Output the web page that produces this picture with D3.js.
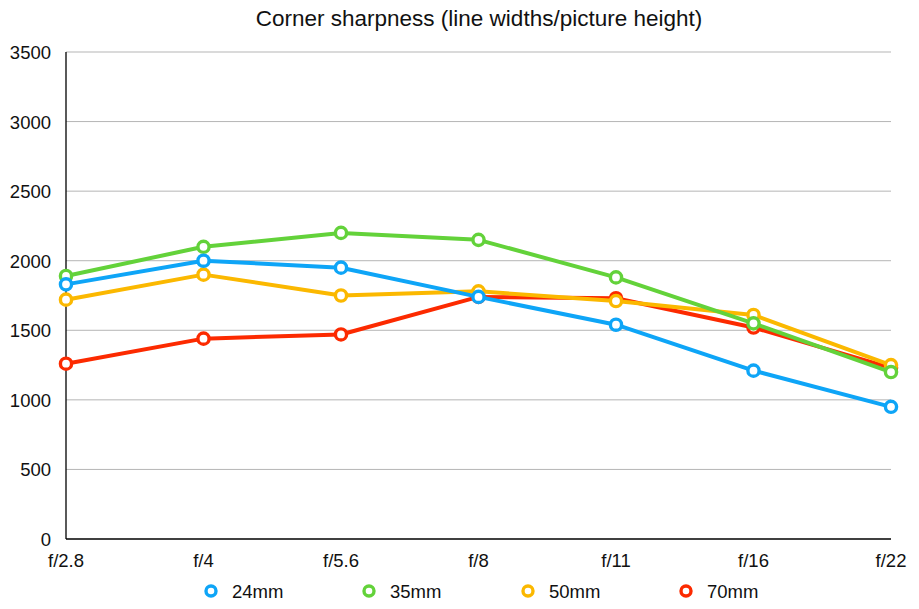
<html lang="en">
<head>
<meta charset="UTF-8" />
<title>Corner sharpness</title>
<style>
  body { margin: 0; background: #fff; }
  text { font-family: "Liberation Sans", Arial, Helvetica, sans-serif; fill: #111; }
</style>
</head>
<body>
<script src="https://cdn.jsdelivr.net/npm/d3@7"></script>
<script>
const stops = ["f/2.8", "f/4", "f/5.6", "f/8", "f/11", "f/16", "f/22"];
const yTicks = [0, 500, 1000, 1500, 2000, 2500, 3000, 3500];
const lens24 = [1830, 2000, 1950, 1740, 1540, 1210, 950];
const lens35 = [1890, 2100, 2200, 2150, 1880, 1550, 1200];
const lens50 = [1720, 1900, 1750, 1780, 1710, 1610, 1250];
const lens70 = [1260, 1440, 1470, 1740, 1730, 1520, 1230];
const seriesNames = ["24mm", "35mm", "50mm", "70mm"];
const seriesColors = ["#0ea5f7", "#63d23a", "#fbb800", "#fc2a00"];

const series = [lens24, lens35, lens50, lens70].map((v, i) => ({
  name: seriesNames[i], color: seriesColors[i], values: v
}));

const width = 919, height = 609;
const plotLeft = 66, plotRight = 891, plotTop = 52, plotBottom = 539;

const svg = d3.select("body").append("svg")
  .attr("width", width).attr("height", height);

const x = d3.scalePoint().domain(stops).range([plotLeft, plotRight]);
const y = d3.scaleLinear().domain([0, 3500]).range([plotBottom, plotTop]);

// title
svg.append("text")
  .attr("x", 479).attr("y", 26)
  .attr("text-anchor", "middle")
  .style("font-size", "22.5px")
  .text("Corner sharpness (line widths/picture height)");

// grid
svg.append("g").selectAll("line")
  .data(yTicks.filter(d => d > 0))
  .join("line")
  .attr("x1", plotLeft).attr("x2", plotRight)
  .attr("y1", d => y(d)).attr("y2", d => y(d))
  .attr("stroke", "#b5b5b5").attr("stroke-width", 1);

// y axis labels
svg.append("g").selectAll("text")
  .data(yTicks)
  .join("text")
  .attr("x", 51).attr("y", d => y(d) + 7)
  .attr("text-anchor", "end")
  .style("font-size", "18.5px")
  .text(d => d);

// x axis labels
svg.append("g").selectAll("text")
  .data(stops)
  .join("text")
  .attr("x", d => x(d)).attr("y", 567)
  .attr("text-anchor", "middle")
  .style("font-size", "18.5px")
  .text(d => d);

// axis lines
svg.append("line").attr("x1", plotLeft).attr("x2", plotLeft).attr("y1", plotTop).attr("y2", plotBottom)
  .attr("stroke", "#000").attr("stroke-width", 1.3);
svg.append("line").attr("x1", plotLeft).attr("x2", plotRight).attr("y1", plotBottom).attr("y2", plotBottom)
  .attr("stroke", "#000").attr("stroke-width", 1.3);

const line = d3.line().x((d, i) => x(stops[i])).y(d => y(d));

// draw red first, blue last
const drawOrder = [3, 2, 1, 0].map(i => series[i]);
const g = svg.append("g").selectAll("g").data(drawOrder).join("g");
g.append("path")
  .attr("d", d => line(d.values))
  .attr("fill", "none")
  .attr("stroke", d => d.color)
  .attr("stroke-width", 4)
  .attr("stroke-linejoin", "round");
g.each(function (s) {
  d3.select(this).selectAll("circle")
    .data(s.values)
    .join("circle")
    .attr("cx", (d, i) => x(stops[i]))
    .attr("cy", d => y(d))
    .attr("r", 5.6)
    .attr("fill", "#fff")
    .attr("stroke", s.color)
    .attr("stroke-width", 3.4);
});

// legend
const legendX = [211, 369, 528, 686];
const lg = svg.append("g").selectAll("g").data(series).join("g")
  .attr("transform", (d, i) => `translate(${legendX[i]},591)`);
lg.append("circle").attr("r", 5).attr("fill", "#fff")
  .attr("stroke", d => d.color).attr("stroke-width", 3.4);
lg.append("text").attr("x", 21).attr("y", 7)
  .style("font-size", "18.5px").text(d => d.name);
</script>
</body>
</html>
